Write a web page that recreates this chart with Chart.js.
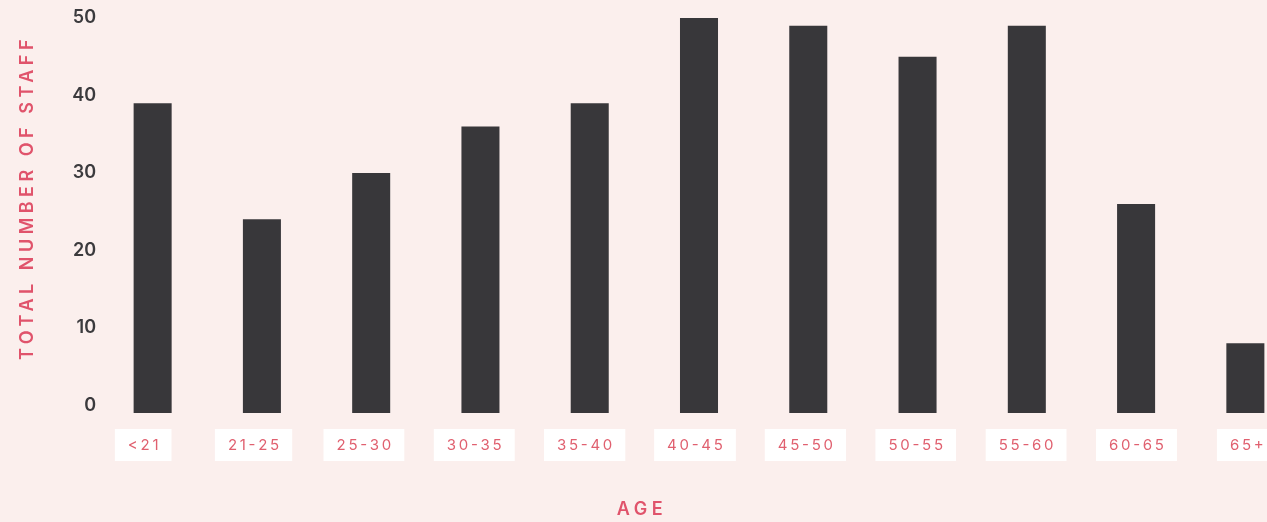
<!DOCTYPE html>
<html>
<head>
<meta charset="utf-8">
<script src="https://cdn.jsdelivr.net/npm/chart.js@4/dist/chart.umd.min.js"></script>
<style>
  html, body { margin: 0; padding: 0; background: #fbefed; overflow: hidden; width: 1267px; height: 522px; }
  #wrap { position: absolute; left: 0; top: 0; width: 1300px; height: 522px; }
</style>
</head>
<body>
<div id="wrap"><canvas id="c"></canvas></div>
<script>
// ---- data ----
const ageGroups = ['<21', '21-25', '25-30', '30-35', '35-40', '40-45', '45-50', '50-55', '55-60', '60-65', '65+'];
const staffCounts = [39, 24, 30, 36, 39, 50, 49, 45, 49, 26, 8];
const yTickValues = [0, 10, 20, 30, 40, 50];
const xAxisTitle = 'AGE';
const yAxisTitle = 'TOTAL NUMBER OF STAFF';

const PINK = '#e0536b';
const FONT = 'Inter, "Open Sans", sans-serif';

// label row in the reference is spread slightly wider than the bar row
const labelRowPlugin = {
  id: 'labelRow',
  afterLayout(chart) {
    const s = chart.scales.xLabels;
    if (!s) return;
    s.left = 88;
    s.right = 1302;
    s.configure();
  }
};

const titlesPlugin = {
  id: 'axisTitles',
  afterDraw(chart) {
    const ctx = chart.ctx;
    ctx.save();
    ctx.font = '600 18px ' + FONT;
    ctx.fillStyle = PINK;
    ctx.textAlign = 'center';
    ctx.textBaseline = 'middle';
    try { ctx.letterSpacing = '4.5px'; } catch (e) {}
    ctx.fillText(xAxisTitle, 642, 509.5);
    ctx.translate(28, 199.5);
    ctx.rotate(-Math.PI / 2);
    ctx.fillText(yAxisTitle, 2, 0);
    ctx.restore();
  }
};

new Chart(document.getElementById('c'), {
  type: 'bar',
  data: {
    labels: ageGroups,
    datasets: [{
      data: staffCounts,
      base: -1,
      backgroundColor: '#38373a',
      borderWidth: 0,
      barPercentage: 0.348,
      categoryPercentage: 1
    }]
  },
  options: {
    responsive: true,
    maintainAspectRatio: false,
    animation: false,
    layout: { padding: { top: 18, left: 0, right: 0, bottom: 0 } },
    plugins: { legend: { display: false }, tooltip: { enabled: false } },
    scales: {
      x: {
        display: false
      },
      xLabels: {
        type: 'category',
        labels: ageGroups,
        position: 'bottom',
        offset: true,
        grid: { display: false, drawTicks: false },
        border: { display: false },
        afterFit(scale) { scale.height = 109; },
        ticks: {
          autoSkip: false,
          maxRotation: 0,
          minRotation: 0,
          padding: 23,
          color: '#e0606f',
          font: { family: FONT, size: 15, weight: '400', lineHeight: 1.2 },
          showLabelBackdrop: true,
          backdropColor: '#ffffff',
          backdropPadding: { top: 7, bottom: 7, left: 13, right: 13 },
          callback(value, index) { return ageGroups[index].split('').join('\u2009'); }
        }
      },
      y: {
        min: -1,
        max: 50,
        grid: { display: false, drawTicks: false },
        border: { display: false },
        afterFit(scale) { scale.width = 98; },
        afterBuildTicks(scale) { scale.ticks = yTickValues.map(v => ({ value: v })); },
        ticks: {
          padding: 2,
          color: '#3b3a3d',
          font: { family: FONT, size: 18, weight: '600' }
        }
      }
    }
  },
  plugins: [labelRowPlugin, titlesPlugin]
});
</script>
</body>
</html>
